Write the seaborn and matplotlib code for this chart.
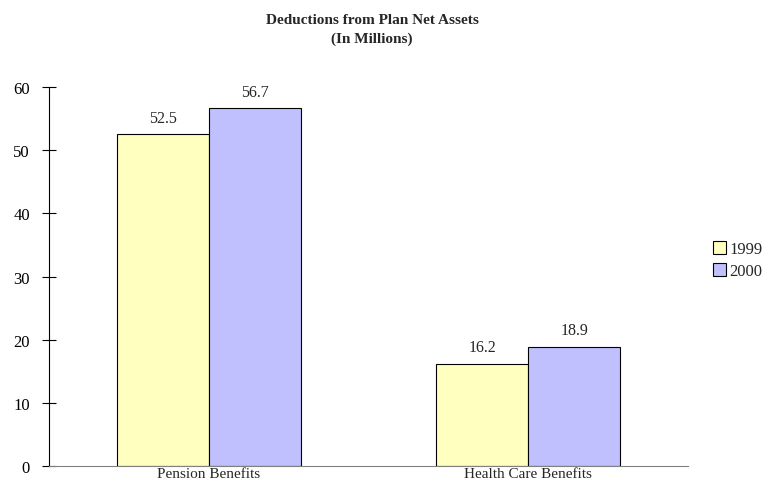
import matplotlib
matplotlib.use("Agg")
import matplotlib.pyplot as plt
import seaborn as sns
import pandas as pd
from matplotlib.patches import Patch

categories = ["Pension Benefits", "Health Care Benefits"]
years = ["1999", "2000"]
values_1999 = [52.5, 16.2]
values_2000 = [56.7, 18.9]
yticks = [0, 10, 20, 30, 40, 50, 60]

df = pd.DataFrame({
    "category": categories * 2,
    "year": [years[0]] * 2 + [years[1]] * 2,
    "value": values_1999 + values_2000,
})

sns.set_style("white")
plt.rcParams["font.family"] = ["Liberation Serif", "DejaVu Serif"]

colors = {"1999": "#FFFFC0", "2000": "#C0C0FF"}

fig = plt.figure(figsize=(7.81, 4.85), dpi=100)
ax = fig.add_axes([49/781, 1-467/485, (688-49)/781, (467-88)/485])

sns.barplot(data=df, x="category", y="value", hue="year", palette=colors,
            width=0.575, gap=0, edgecolor="black", linewidth=0.8,
            ax=ax, legend=False, saturation=1)

for c in ax.containers:
    ax.bar_label(c, fmt="%.1f", padding=6, fontsize=11.5)

ax.set_xlim(-0.5, 1.5)
ax.set_ylim(0, 60)
ax.set_yticks(yticks)
ax.set_xlabel("")
ax.set_ylabel("")
for s in ["top", "right"]:
    ax.spines[s].set_visible(False)
ax.spines["left"].set_color("black")
ax.spines["bottom"].set_color("#808080")
ax.spines["left"].set_linewidth(0.8)
ax.tick_params(axis="y", which="both", direction="inout", length=9.5, width=0.8,
               left=True, labelsize=12, pad=9, colors="black")
ax.tick_params(axis="x", length=0, labelsize=11, pad=0.5)

fig.text(372/781, 1 - 30/485, "Deductions from Plan Net Assets\n(In Millions)",
         ha="center", va="center", fontsize=11, fontweight="bold", linespacing=1.6)

handles = [Patch(facecolor=colors[y], edgecolor="black", linewidth=0.8, label=y) for y in years]
fig.legend(handles=handles, loc="center left", bbox_to_anchor=(713/781, 1 - 261/485),
           frameon=False, fontsize=12, handlelength=0.8, handleheight=0.8,
           handletextpad=0.2, labelspacing=0.35, borderaxespad=0, borderpad=0)

fig.savefig("out.png", dpi=100)
